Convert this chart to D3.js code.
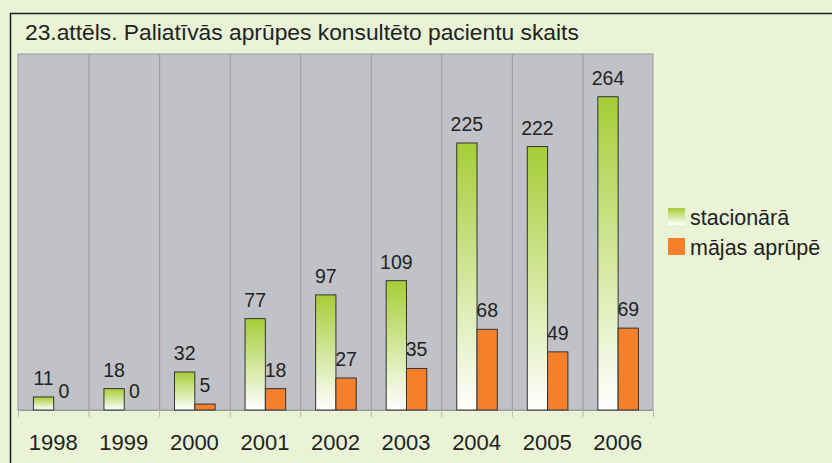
<!DOCTYPE html>
<html><head><meta charset="utf-8">
<script src="https://cdn.jsdelivr.net/npm/d3@7"></script>
<style>body{margin:0;background:#eaf3d6;}svg{display:block;font-family:"Liberation Sans",Arial,sans-serif;}</style>
</head><body><svg id="c" width="832" height="463"></svg>
<script>
const title = "23.attēls. Paliatīvās aprūpes konsultēto pacientu skaits";
const years = ["1998","1999","2000","2001","2002","2003","2004","2005","2006"];
const seriesNames = ["stacionārā","mājas aprūpē"];
const stacionara = [11,18,32,77,97,109,225,222,264];
const majas = [0,0,5,18,27,35,68,49,69];

const svg = d3.select("#c");
svg.append("rect").attr("width",832).attr("height",463).attr("fill","#eaf3d6");
const defs = svg.append("defs");
const g1 = defs.append("linearGradient").attr("id","gg").attr("x1",0).attr("y1",0).attr("x2",0).attr("y2",1);
g1.append("stop").attr("offset","0%").attr("stop-color","#a6cd36");
g1.append("stop").attr("offset","100%").attr("stop-color","#ffffff");

// outer frame
svg.append("path").attr("d","M10.5,470 V13.5 H840").attr("fill","none").attr("stroke","#222").attr("stroke-width",1.5);
svg.append("text").attr("x",25).attr("y",40).attr("font-size",22.8).attr("fill","#222").text(title);

const L=18,R=653,T=54,B=410;
const x = d3.scaleBand().domain(years).range([L,R]);
const y = d3.scaleLinear().domain([0,300]).range([B,T]);

svg.append("rect").attr("x",L).attr("y",T).attr("width",R-L).attr("height",B-T).attr("fill","#c1c2c7").attr("stroke","#9a9a9e").attr("stroke-width",1);
svg.append("g").selectAll("line").data(years.slice(1)).join("line")
  .attr("x1",d=>x(d)+0.5).attr("x2",d=>x(d)+0.5).attr("y1",T).attr("y2",B)
  .attr("stroke","#9a9a9e");

const ax = svg.append("g").attr("transform",`translate(0,${B})`)
  .call(d3.axisBottom(x).tickSize(0).tickPadding(0).tickFormat(""));
ax.select(".domain").attr("stroke","#9a9a9e");
svg.append("g").selectAll("line").data(years.concat(["_end"])).join("line")
  .attr("x1",(d,i)=>L+i*x.step()+0.5).attr("x2",(d,i)=>L+i*x.step()+0.5)
  .attr("y1",B).attr("y2",B+7).attr("stroke","#b5b8ad");
svg.append("g").selectAll("text").data(years).join("text")
  .attr("x",d=>x(d)+x.bandwidth()/2).attr("y",450).attr("text-anchor","middle")
  .attr("font-size",22).attr("fill","#222").text(d=>d);

const bw = 20.3, off = 15.4;
const data = years.map((yr,i)=>({yr,s:stacionara[i],m:majas[i]}));
const grp = svg.append("g");
grp.selectAll("rect.s").data(data).join("rect").attr("class","s")
  .attr("x",d=>x(d.yr)+off).attr("width",bw)
  .attr("y",d=>y(d.s)).attr("height",d=>y(0)-y(d.s))
  .attr("fill","url(#gg)").attr("stroke","#333").attr("stroke-width",1);
grp.selectAll("rect.m").data(data.filter(d=>d.m>0)).join("rect").attr("class","m")
  .attr("x",d=>x(d.yr)+off+bw).attr("width",bw)
  .attr("y",d=>y(d.m)).attr("height",d=>y(0)-y(d.m))
  .attr("fill","#f5802c").attr("stroke","#333").attr("stroke-width",1);
grp.selectAll("text.s").data(data).join("text").attr("class","s")
  .attr("x",d=>x(d.yr)+off+bw/2).attr("y",d=>y(d.s)-12).attr("text-anchor","middle")
  .attr("font-size",19.5).attr("fill","#222").text(d=>d.s);
grp.selectAll("text.m").data(data).join("text").attr("class","m")
  .attr("x",d=>x(d.yr)+off+bw*1.5).attr("y",d=>y(d.m)-12).attr("text-anchor","middle")
  .attr("font-size",19.5).attr("fill","#222").text(d=>d.m);

const lg = svg.append("g");
const fills = ["url(#gg)","#f5802c"];
seriesNames.forEach((n,i)=>{
  lg.append("rect").attr("x",668).attr("y",208+i*30).attr("width",17).attr("height",17).attr("fill",fills[i]);
  lg.append("text").attr("x",690).attr("y",225+i*30).attr("font-size",21.5).attr("fill","#222").text(n);
});
</script></body></html>
